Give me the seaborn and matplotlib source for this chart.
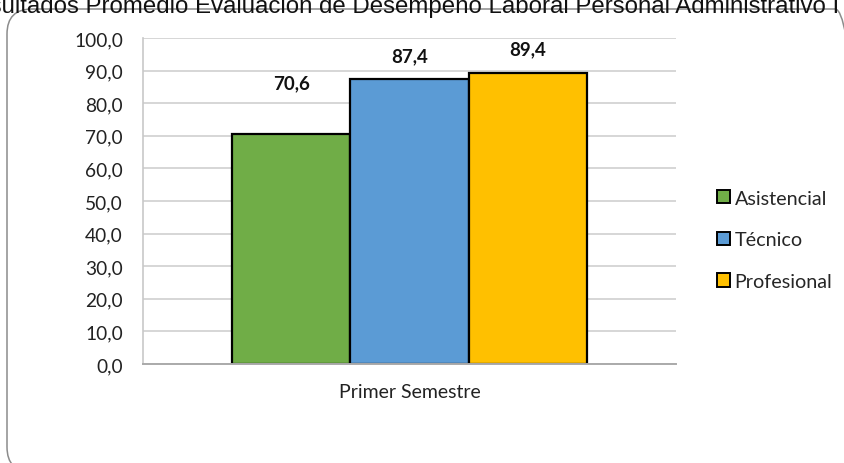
import matplotlib
matplotlib.use("Agg")
import matplotlib.pyplot as plt
import seaborn as sns
import pandas as pd
from matplotlib.patches import FancyBboxPatch, Patch

periodo = ["Primer Semestre"]
niveles = ["Asistencial", "Técnico", "Profesional"]
valores = [70.6, 87.4, 89.4]
colores = ["#70AD47", "#5B9BD5", "#FFC000"]
yticks = [0, 10, 20, 30, 40, 50, 60, 70, 80, 90, 100]
titulo = "Resultados Promedio Evaluación de Desempeño Laboral Personal Administrativo I Semestre"

df = pd.DataFrame({"periodo": periodo * len(niveles), "nivel": niveles, "valor": valores})

sns.set_theme(style="white")
plt.rcParams["font.family"] = ["Lato", "DejaVu Sans"]

fig = plt.figure(figsize=(8.45, 4.64), dpi=100)
ax = fig.add_axes([143/845, 1-365/464, (676-143)/845, (365-39)/464])

sns.barplot(data=df, x="periodo", y="valor", hue="nivel", palette=colores,
            hue_order=niveles, edgecolor="black", linewidth=1.6, width=0.666,
            saturation=1, ax=ax, legend=False, errorbar=None)

ax.set_ylim(0, 100)
ax.set_xlim(-0.5, 0.5)
ax.set_yticks(yticks)
ax.set_yticklabels([f"{v:.1f}".replace(".", ",") for v in yticks], fontsize=13.8, color="#222222")
ax.tick_params(axis="x", labelsize=14, pad=14, length=0, colors="#222222")
ax.tick_params(axis="y", length=0, pad=14.5)
ax.set_xlabel("")
ax.set_ylabel("")
ax.yaxis.grid(True, color="#d0d0d0", linewidth=1.2)
ax.set_axisbelow(True)
for s in ["top", "right"]:
    ax.spines[s].set_visible(False)
ax.spines["left"].set_color("#c8c8c8")
ax.spines["left"].set_linewidth(1.2)
ax.spines["bottom"].set_color("#aaaaaa")
ax.spines["bottom"].set_linewidth(1.4)

pads = [31, 11, 11]
for cont, pad in zip(ax.containers, pads):
    ax.bar_label(cont, labels=[f"{b.get_height():.1f}".replace(".", ",") for b in cont],
                 padding=pad, fontsize=13.5, fontweight="bold", color="#111111")

handles = [Patch(facecolor=c, edgecolor="black", linewidth=1.4) for c in colores]
fig.legend(handles, niveles, loc="center left", bbox_to_anchor=(0.839, 0.481),
           frameon=False, fontsize=14.2, handlelength=0.65, handleheight=0.65,
           handletextpad=0.25, labelspacing=1.25, borderaxespad=0)

border = FancyBboxPatch((0.07, -0.09), 8.53, 4.63,
                        boxstyle="round,pad=0,rounding_size=0.25",
                        transform=fig.dpi_scale_trans, facecolor="none",
                        edgecolor="#8c8c8c", linewidth=1.1)
fig.patches.append(border)

fig.text(-0.048, 1 - 13/464, titulo, ha="left", va="baseline", fontsize=17.3,
         family=["Liberation Sans", "DejaVu Sans"], color="#111111")

fig.savefig("out.png", dpi=100)
